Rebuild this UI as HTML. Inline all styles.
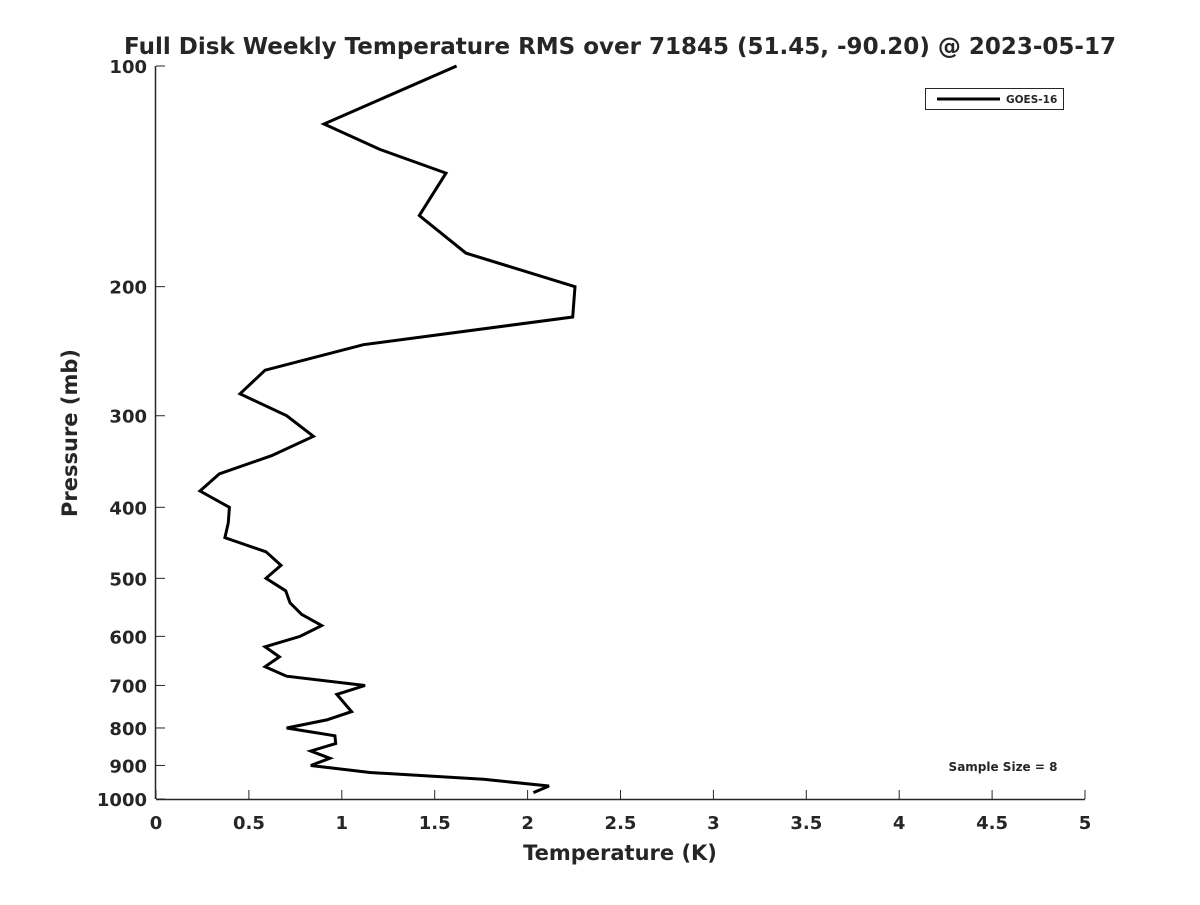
<!DOCTYPE html>
<html><head><meta charset="utf-8"><style>
body{margin:0;background:#fff;}
svg text{font-family:"DejaVu Sans","Liberation Sans",sans-serif;font-weight:bold;fill:#262626;}
</style></head><body>
<svg id="chart" width="1200" height="900" xmlns="http://www.w3.org/2000/svg">
<rect width="1200" height="900" fill="#fff"/>
<text x="620" y="54" font-size="23" text-anchor="middle" fill="#000">Full Disk Weekly Temperature RMS over 71845 (51.45, -90.20) @ 2023-05-17</text>
<g id="axes"></g>
<polyline id="series" fill="none" stroke="#000" stroke-width="3" stroke-linejoin="miter"/>
<g>
<rect x="925.5" y="88.5" width="138" height="21" fill="#fff" stroke="#262626" stroke-width="1"/>
<line x1="937" y1="99" x2="1000" y2="99" stroke="#000" stroke-width="3"/>
<text x="1006" y="103" font-size="10.5" fill="#000">GOES-16</text>
</g>
<text x="1003" y="771" font-size="12" text-anchor="middle" fill="#000">Sample Size = 8</text>
<text x="620" y="860" font-size="21" text-anchor="middle">Temperature (K)</text>
<text transform="translate(77,433) rotate(-90)" font-size="21" text-anchor="middle">Pressure (mb)</text>
</svg>
<script>
const temps=[1.618,0.904,1.206,1.561,1.417,1.668,2.255,2.243,1.116,0.587,0.452,0.703,0.847,0.623,0.341,0.237,0.395,0.389,0.371,0.592,0.673,0.592,0.698,0.721,0.784,0.892,0.775,0.587,0.664,0.587,0.703,1.125,0.973,1.053,0.919,0.703,0.963,0.967,0.833,0.936,0.833,1.152,1.762,2.115,2.031];
const pressures=[100,120,130,140,160,180,200,220,240,260,280,300,320,340,360,380,400,420,440,460,480,500,520,540,560,580,600,620,640,660,680,700,720,760,780,800,820,840,860,880,900,920,940,960,980];
const xTicks=[0,0.5,1,1.5,2,2.5,3,3.5,4,4.5,5];
const xTickLabels=["0","0.5","1","1.5","2","2.5","3","3.5","4","4.5","5"];
const yTicks=[100,200,300,400,500,600,700,800,900,1000];
const x0=156,x1=1085,y0=66,y1=799;
function xs(v){return x0+(v-0)/(5-0)*(x1-x0);}
function ys(p){return y0+(Math.log10(p)-2)/(3-2)*(y1-y0);}
const NS="http://www.w3.org/2000/svg";
const axes=document.getElementById('axes');
function mk(tag,attrs){const e=document.createElementNS(NS,tag);for(const k in attrs)e.setAttribute(k,attrs[k]);return e;}
const xa=mk('line',{x1:x0,y1:y1+0.5,x2:x1,y2:y1+0.5,stroke:'#262626','stroke-width':1.5});


axes.appendChild(xa);
const ya=mk('line',{x1:x0-0.5,y1:y0,x2:x0-0.5,y2:y1,stroke:'#262626','stroke-width':1.5});


axes.appendChild(ya);
xTicks.forEach((v,i)=>{
 const X=xs(v);
 const t=mk('line',{x1:X,y1:y1,x2:X,y2:y1-9,stroke:'#262626','stroke-width':1});
 
 
 axes.appendChild(t);
 const l=mk('text',{x:X,y:y1+30,'font-size':18,'text-anchor':'middle'});
 l.textContent=xTickLabels[i];
 
 
 axes.appendChild(l);
});
yTicks.forEach(p=>{
 const Y=ys(p);
 const t=mk('line',{x1:x0,y1:Y,x2:x0+9,y2:Y,stroke:'#262626','stroke-width':1});
 
 
 axes.appendChild(t);
 const l=mk('text',{x:x0-9,y:Y+7,'font-size':18,'text-anchor':'end'});
 l.textContent=String(p);
 
 
 axes.appendChild(l);
});
document.getElementById('series').setAttribute('points',temps.map((t,i)=>xs(t).toFixed(1)+','+ys(pressures[i]).toFixed(1)).join(' '));
</script>
</body></html>
